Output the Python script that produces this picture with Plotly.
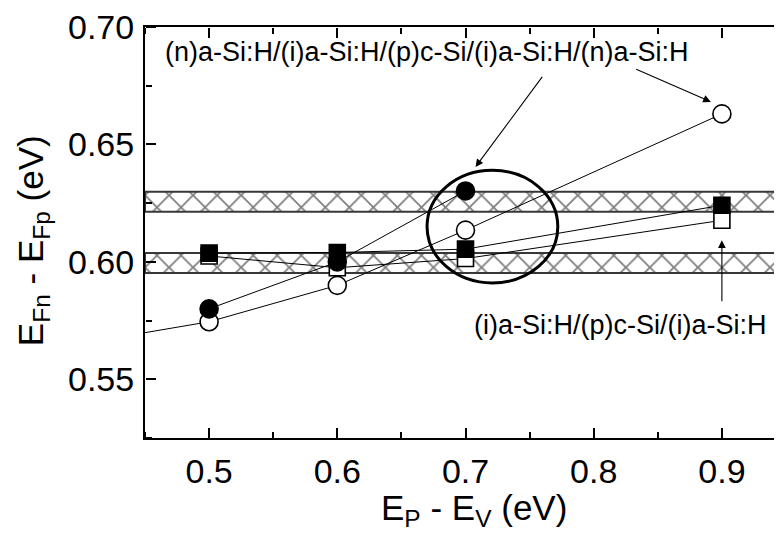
import plotly.graph_objects as go

# ---- data ----
x_open_circ = [0.4, 0.5, 0.6, 0.7, 0.9]
y_open_circ = [0.5652, 0.5745, 0.590, 0.6135, 0.663]
x_fill_circ = [0.5, 0.6, 0.7]
y_fill_circ = [0.580, 0.600, 0.6302]
x_sq = [0.5, 0.6, 0.7, 0.9]
y_fill_sq = [0.6037, 0.6040, 0.6054, 0.6241]
y_open_sq = [0.6025, 0.5975, 0.6014, 0.6177]
band_upper = [0.6213, 0.6298]
band_lower = [0.5953, 0.6038]
x_range = [0.45, 0.95]
y_range = [0.525, 0.70]

label_top = "(n)a-Si:H/(i)a-Si:H/(p)c-Si/(i)a-Si:H/(n)a-Si:H"
label_bottom = "(i)a-Si:H/(p)c-Si/(i)a-Si:H"
label_top_pos = [0.670, 0.6892]
label_bottom_pos = [0.821, 0.573]
x_title = "E<sub>P</sub> - E<sub>V</sub> (eV)"
y_title = "E<sub>Fn</sub> - E<sub>Fp</sub> (eV)"
# arrows: (tail x, tail y, head x, head y)
arrows = [
    (0.7607, 0.6794, 0.7078, 0.6404),
    (0.8320, 0.6823, 0.8914, 0.6681),
    (0.9000, 0.5826, 0.9000, 0.6092),
]
ellipse = dict(x0=0.670, x1=0.772, y0=0.591, y1=0.639)

FONT = "Liberation Sans, Arial, sans-serif"

fig = go.Figure()

# hatched bands
for lo, hi in (band_upper, band_lower):
    fig.add_trace(go.Scatter(
        x=[x_range[0], 0.96, 0.96, x_range[0], x_range[0]],
        y=[lo, lo, hi, hi, lo],
        mode="lines", fill="toself",
        line=dict(color="#383838", width=2),
        fillcolor="white",
        fillpattern=dict(shape="x", fgcolor="black", bgcolor="white",
                         size=17, solidity=0.2),
        hoverinfo="skip", showlegend=False))

line_style = dict(color="black", width=1)

fig.add_trace(go.Scatter(
    x=x_sq, y=y_open_sq, mode="lines+markers", line=line_style,
    marker=dict(symbol="square", size=16, color="white",
                line=dict(color="black", width=1.6)), showlegend=False))
fig.add_trace(go.Scatter(
    x=x_sq, y=y_fill_sq, mode="lines+markers", line=line_style,
    marker=dict(symbol="square", size=16, color="black",
                line=dict(color="black", width=1.6)), showlegend=False))
fig.add_trace(go.Scatter(
    x=x_open_circ, y=y_open_circ, mode="lines+markers", line=line_style,
    marker=dict(symbol="circle", size=18, color="white",
                line=dict(color="black", width=1.6)), showlegend=False))
fig.add_trace(go.Scatter(
    x=x_fill_circ, y=y_fill_circ, mode="lines+markers", line=line_style,
    marker=dict(symbol="circle", size=18, color="black",
                line=dict(color="black", width=1.6)), showlegend=False))

# helper (invisible) traces so the tick-only overlay axes are rendered
for xa, ya in (("x2", "y2"), ("x3", "y3")):
    fig.add_trace(go.Scatter(x=[0.5], y=[0.6], xaxis=xa, yaxis=ya, mode="markers",
                             marker=dict(opacity=0), showlegend=False, hoverinfo="skip"))

fig.add_shape(type="circle", xref="x", yref="y", line=dict(color="black", width=3),
              **ellipse)

annotations = [
    dict(x=label_top_pos[0], y=label_top_pos[1], xref="x", yref="y",
         text=label_top, showarrow=False, font=dict(size=27, color="black", family=FONT)),
    dict(x=label_bottom_pos[0], y=label_bottom_pos[1], xref="x", yref="y",
         text=label_bottom, showarrow=False, font=dict(size=27, color="black", family=FONT)),
    dict(x=0.513, y=-0.176, xref="paper", yref="paper", text=x_title,
         xanchor="center", yanchor="middle",
         showarrow=False, font=dict(size=35, color="black", family=FONT)),
    dict(x=-0.175, y=0.481, xref="paper", yref="paper", text=y_title, textangle=-90,
         xanchor="center", yanchor="middle",
         showarrow=False, font=dict(size=35, color="black", family=FONT)),
]
for tx, ty, hx, hy in arrows:
    annotations.append(dict(x=hx, y=hy, ax=tx, ay=ty, xref="x", yref="y",
                            axref="x", ayref="y", text="", showarrow=True,
                            arrowhead=2, arrowsize=1.4, arrowwidth=1.1,
                            arrowcolor="black"))

tick_common = dict(showgrid=False, zeroline=False, showline=False,
                   showticklabels=False, ticks="outside", tickwidth=2,
                   tickcolor="black", automargin=False)
x_tick_axis = dict(range=x_range, tick0=0.5, dtick=0.1, ticklen=10,
                   minor=dict(dtick=0.05, ticks="outside", ticklen=6, tickwidth=2,
                              tickcolor="black", showgrid=False), **tick_common)
y_tick_axis = dict(range=y_range, tick0=0.55, dtick=0.05, ticklen=10,
                   minor=dict(dtick=0.025, ticks="outside", ticklen=6, tickwidth=2,
                              tickcolor="black", showgrid=False), **tick_common)

fig.update_layout(
    width=782, height=541,
    margin=dict(l=137, r=4, t=19, b=111),
    paper_bgcolor="white", plot_bgcolor="white",
    font=dict(family=FONT, color="black", size=34),
    annotations=annotations,
    xaxis=dict(range=x_range, tick0=0.5, dtick=0.1, tickformat=".1f",
               showgrid=False, zeroline=False, showline=True, linecolor="black",
               linewidth=2, mirror=True, ticks="", automargin=False,
               ticklabelstandoff=2, ticklabeloverflow="allow"),
    yaxis=dict(range=y_range, tick0=0.55, dtick=0.05, tickformat=".2f",
               showgrid=False, zeroline=False, showline=True, linecolor="black",
               linewidth=2, mirror=True, ticks="", automargin=False,
               ticklabelstandoff=2, ticklabeloverflow="allow"),
    # tick-only axes pointing into the plot area
    xaxis2=dict(overlaying="x", side="top", anchor="free", position=0, **x_tick_axis),
    xaxis3=dict(overlaying="x", side="bottom", anchor="free", position=1, **x_tick_axis),
    yaxis2=dict(overlaying="y", side="right", anchor="free", position=0, **y_tick_axis),
    yaxis3=dict(overlaying="y", side="left", anchor="free", position=1, **y_tick_axis),
)

fig.write_html("out.html")
